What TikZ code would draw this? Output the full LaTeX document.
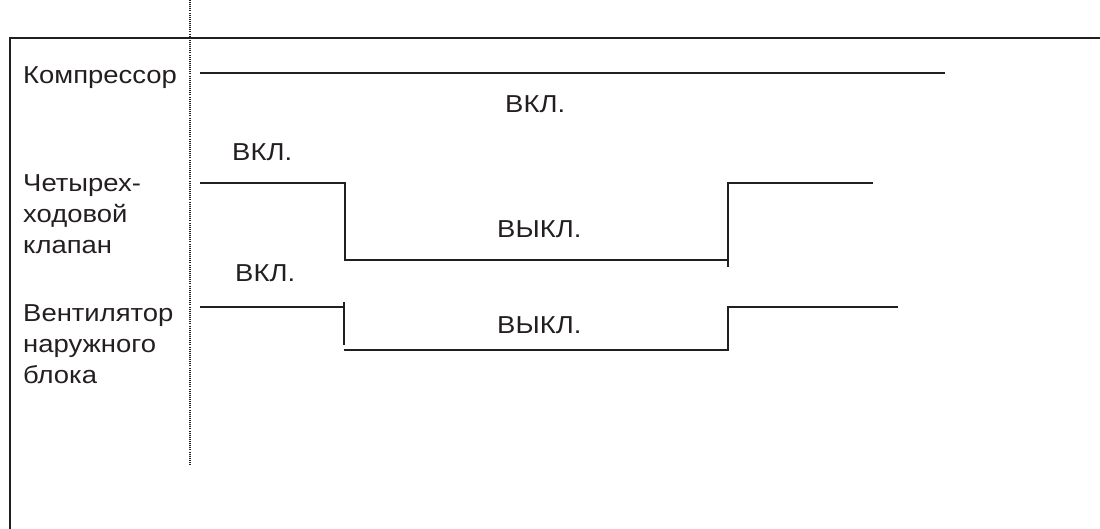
\documentclass[tikz,border=0pt]{standalone}
\usepackage{fontspec}
\setmainfont{Liberation Sans}[FakeStretch=1.12]
\definecolor{ink}{HTML}{231F20}
\tikzset{
  frameline/.style={draw=ink, line width=1.8pt},
  timeline/.style={draw=ink, line width=2.2pt},
  guide/.style={draw=ink, line width=1.4pt, dash pattern=on 1pt off 1.1pt},
  lbl/.style={anchor=base west, inner sep=0pt, text=ink, font=\fontsize{24.5}{31}\selectfont},
  state/.style={anchor=base west, inner sep=0pt, text=ink, font=\fontsize{24.5}{31}\selectfont},
}
\begin{document}
\begin{tikzpicture}[x=1pt, y=-1pt]
\useasboundingbox (0,0) rectangle (1100,529);

% outer frame (top and left edges)
\coordinate (fTL) at (10,38);
\coordinate (fTR) at (1100,38);
\coordinate (fBL) at (10,529);
\draw[frameline] (fTR) -- (fTL) -- (fBL);

% time reference marker
\coordinate (gTop) at (190,0);
\coordinate (gBot) at (190,465);
\draw[guide] (gTop) -- (gBot);

% row labels
\node[lbl] (lComp) at (23,84) {Компрессор};
\node[lbl] (lValve1) at (23,192) {Четырех-};
\node[lbl] (lValve2) at (23,223) {ходовой};
\node[lbl] (lValve3) at (23,254) {клапан};
\node[lbl] (lFan1) at (23,321) {Вентилятор};
\node[lbl] (lFan2) at (23,352) {наружного};
\node[lbl] (lFan3) at (23,383) {блока};

% compressor: on throughout
\coordinate (c0) at (200,73);
\coordinate (c1) at (945,73);
\draw[timeline] (c0) -- (c1);
\node[state] (sComp) at (505,113) {ВКЛ.};

% four-way valve
\coordinate (v0) at (200,183);
\coordinate (v1) at (345,183);
\coordinate (v2) at (345,260);
\coordinate (v3) at (728,260);
\coordinate (v4) at (728,267);
\coordinate (v5) at (728,183);
\coordinate (v6) at (873,183);
\draw[timeline] (v0) -- (v1) -- (v2) -- (v3);
\draw[timeline] (v4) -- (v5) -- (v6);
\node[state] (sValveOn) at (232,161) {ВКЛ.};
\node[state] (sValveOff) at (497,238) {ВЫКЛ.};

% outdoor fan
\coordinate (f0) at (200,307);
\coordinate (f1) at (344,307);
\coordinate (f1t) at (344,302);
\coordinate (f2b) at (344,345);
\coordinate (f2) at (344,350);
\coordinate (f3) at (728,350);
\coordinate (f4) at (728,307);
\coordinate (f5) at (898,307);
\draw[timeline] (f0) -- (f1);
\draw[timeline] (f1t) -- (f2b);
\draw[timeline] (f2) -- (f3) -- (f4) -- (f5);
\node[state] (sFanOn) at (235,282) {ВКЛ.};
\node[state] (sFanOff) at (497,333) {ВЫКЛ.};
\end{tikzpicture}
\end{document}
